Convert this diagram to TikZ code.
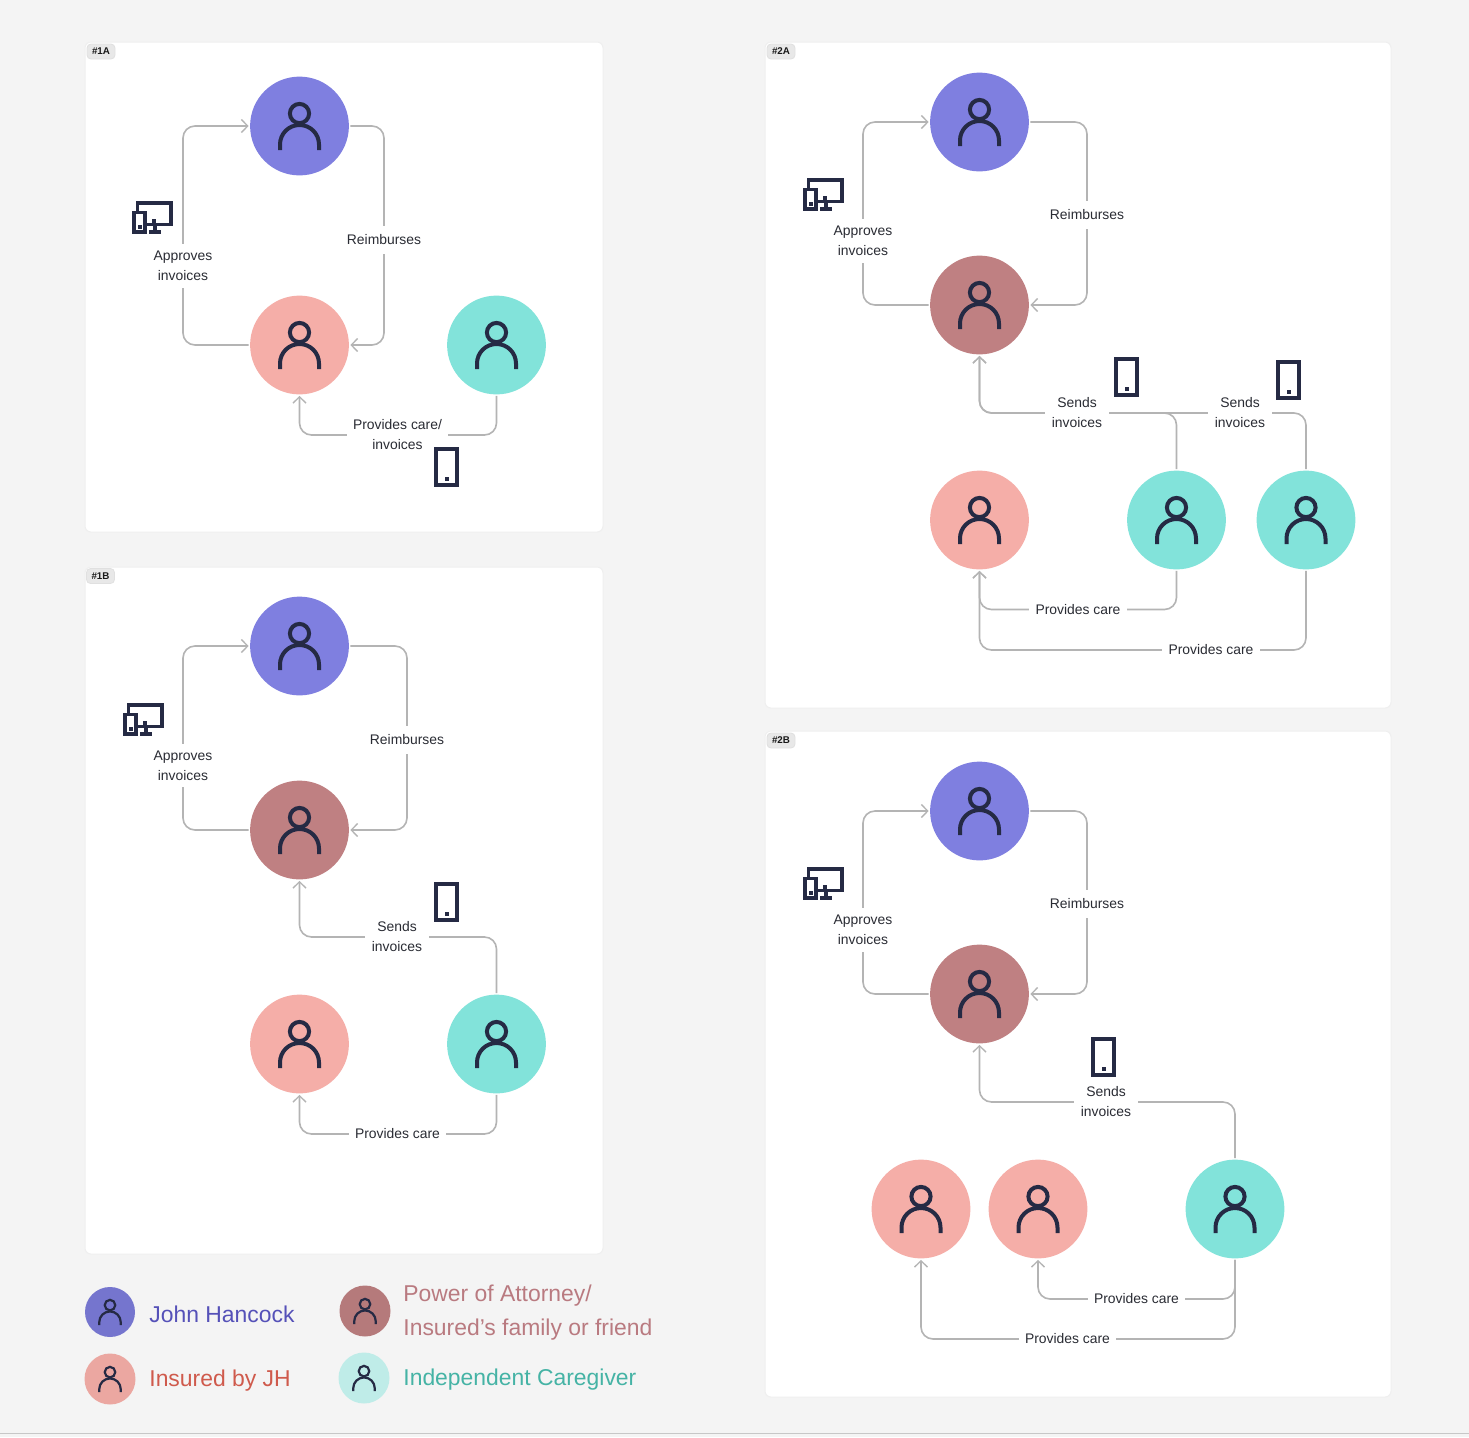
\documentclass[tikz,border=0pt]{standalone}
\usepackage{fontspec}
\setmainfont{Liberation Sans}
\usetikzlibrary{arrows.meta}
\definecolor{pagebg}{HTML}{F4F4F4}
\definecolor{cardline}{HTML}{EFEFEF}
\definecolor{ink}{HTML}{252A44}
\definecolor{wire}{HTML}{B4B4B4}
\definecolor{labeltext}{HTML}{2A2C34}
\definecolor{cblue}{HTML}{7F7FE0}
\definecolor{crose}{HTML}{F5AEA8}
\definecolor{cmauve}{HTML}{BF8082}
\definecolor{cteal}{HTML}{82E3DA}
\definecolor{cpale}{HTML}{BFECE8}
\definecolor{tblue}{HTML}{5551B8}
\definecolor{tred}{HTML}{CF5A4C}
\definecolor{tmauve}{HTML}{B97A80}
\definecolor{tteal}{HTML}{45B3A5}
\pgfdeclarelayer{cards}
\pgfdeclarelayer{lines}
\pgfsetlayers{cards,lines,main}
\tikzset{
  card/.style={draw=cardline,line width=.5pt,fill=white,rounded corners=3pt},
  person/.style={circle,inner sep=0pt,minimum size=49.4pt,outer sep=.7pt},
  wirepath/.style={draw=wire,line width=.8pt,rounded corners=6pt},
  arrowed/.style={wirepath,-{Straight Barb[length=3.2pt,width=6.5pt,line width=.65pt]}},
  lab/.style={fill=white,align=center,font=\fontsize{6.95}{10}\selectfont,text=labeltext,inner xsep=3.2pt,inner ysep=3.5pt,minimum height=14pt},
  tagbox/.style={draw=black!12,fill=black!9,rounded corners=2pt,line width=.4pt,inner sep=0pt,minimum width=14pt,minimum height=7.5pt,font=\fontsize{4.9}{5}\selectfont\bfseries,text=black!90},
  legtext/.style={anchor=west,inner sep=0pt,font=\fontsize{11.45}{17}\selectfont},
  icon/.style={draw=ink,line width=#1,line cap=butt},
  icon/.default=1.9pt
}
\newcommand{\personicon}[3]{% node, scale, line width
  \begin{scope}[shift={(#1.center)},scale=#2]
    \draw[icon=#3] (0,-12.5) circle [radius=4.8pt];
    \draw[icon=#3] (-19.5,24) -- (-19.5,18.5) .. controls (-19.5,7.7) and (-10.8,-1) .. (0,-1) .. controls (10.8,-1) and (19.5,7.7) .. (19.5,18.5) -- (19.5,24);
  \end{scope}}
\newcommand{\person}[4]{%
  \node[person,fill=#4] (#1) at (#2,#3) {};
  \personicon{#1}{1}{2pt}}
\newcommand{\legperson}[5]{% name x y colour size
  \node[person,fill=#4,minimum size=#5] (#1) at (#2,#3) {};
  \personicon{#1}{.55}{1.1pt}}
\newcommand{\phoneicon}[2]{%
  \begin{scope}[shift={(#1,#2)}]
    \draw[icon] (1.9,1.9) rectangle (23.1,38.1);
    \fill[ink] (11,30) rectangle (15,34);
  \end{scope}}
\newcommand{\deviceicon}[2]{%
  \begin{scope}[shift={(#1,#2)}]
    \draw[icon] (5.5,10) -- (5.5,1.9) -- (39.1,1.9) -- (39.1,23.5) -- (14,23.5);
    \draw[icon] (1.9,11.5) rectangle (13,31.1);
    \draw[icon] (23,23.5) -- (23,31);
    \draw[icon] (17,31.1) -- (28.5,31.1);
    \fill[ink] (20,17.5) rectangle (24,21.5);
    \fill[ink] (5.5,23.7) rectangle (9.5,27.7);
  \end{scope}}
\begin{document}
\begin{tikzpicture}[x=.5pt,y=-.5pt]
\useasboundingbox (0,0) rectangle (1469,1437);
\begin{pgfonlayer}{cards}
  \fill[pagebg] (0,0) rectangle (1469,1437);
  \draw[black!22,line width=.5pt] (0,1433.5) -- (1469,1433.5);
  \draw[card] (85,42) rectangle (603,532);
  \draw[card] (85,567) rectangle (603,1254);
  \draw[card] (765,42) rectangle (1391,708);
  \draw[card] (765,731) rectangle (1391,1397);
\end{pgfonlayer}
% tags
\node[tagbox] (tagA) at (101,51.5) {\#1A};
\node[tagbox] (tagB) at (100.5,576) {\#1B};
\node[tagbox] (tagC) at (781,51.5) {\#2A};
\node[tagbox] (tagD) at (781,740.5) {\#2B};

% ---- 1A
\person{a1}{299.5}{126}{cblue}
\person{a2}{299.5}{345}{crose}
\person{a3}{496.5}{345}{cteal}
\node[lab] (aA) at (183,266) {Approves\\invoices};
\node[lab] (aR) at (384,240) {Reimburses};
\node[lab] (aP) at (397.5,435) {Provides care/\\invoices};
\begin{pgfonlayer}{lines}
  \draw[arrowed] (a2.west) -| (aA.center) |- (a1.west);
  \draw[arrowed] (a1.east) -| (aR.center) |- (a2.east);
  \draw[arrowed] (a3.south) |- (aP.center) -| (a2.south);
\end{pgfonlayer}
\deviceicon{132}{201}
\phoneicon{434}{447}

% ---- 1B
\person{b1}{299.5}{646}{cblue}
\person{b2}{299.5}{830}{cmauve}
\person{b3}{299.5}{1044}{crose}
\person{b4}{496.5}{1044}{cteal}
\node[lab] (bA) at (183,765.5) {Approves\\invoices};
\node[lab] (bR) at (407,740) {Reimburses};
\node[lab] (bS) at (397,937) {Sends\\invoices};
\node[lab] (bP) at (397.5,1134) {Provides care};
\begin{pgfonlayer}{lines}
  \draw[arrowed] (b2.west) -| (bA.center) |- (b1.west);
  \draw[arrowed] (b1.east) -| (bR.center) |- (b2.east);
  \draw[arrowed] (b4.north) |- (bS.center) -| (b2.south);
  \draw[arrowed] (b4.south) |- (bP.center) -| (b3.south);
\end{pgfonlayer}
\deviceicon{123}{703}
\phoneicon{434}{882}

% ---- 2A
\person{c1}{979.5}{122}{cblue}
\person{c2}{979.5}{305}{cmauve}
\person{c3}{979.5}{520}{crose}
\person{c4}{1176.5}{520}{cteal}
\person{c5}{1306}{520}{cteal}
\node[lab] (cA) at (863,241) {Approves\\invoices};
\node[lab] (cR) at (1087,215) {Reimburses};
\node[lab] (cS) at (1077,413) {Sends\\invoices};
\node[lab] (cT) at (1240,413) {Sends\\invoices};
\node[lab] (cP) at (1078,609.5) {Provides care};
\node[lab] (cQ) at (1211,650) {Provides care};
\begin{pgfonlayer}{lines}
  \draw[arrowed] (c2.west) -| (cA.center) |- (c1.west);
  \draw[arrowed] (c1.east) -| (cR.center) |- (c2.east);
  \draw[arrowed] (c4.north) |- (cS.center) -| (c2.south);
  \draw[arrowed] (c5.north) |- (cT.center) -- (cS.center) -| (c2.south);
  \draw[arrowed] (c4.south) |- (cP.center) -| (c3.south);
  \draw[arrowed] (c5.south) |- (cQ.center) -| (c3.south);
\end{pgfonlayer}
\deviceicon{803}{178}
\phoneicon{1114}{357}
\phoneicon{1276}{360}

% ---- 2B
\person{d1}{979.5}{811}{cblue}
\person{d2}{979.5}{994}{cmauve}
\person{d3}{921}{1209}{crose}
\person{d4}{1038}{1209}{crose}
\person{d5}{1235}{1209}{cteal}
\node[lab] (dA) at (863,930) {Approves\\invoices};
\node[lab] (dR) at (1087,904) {Reimburses};
\node[lab] (dS) at (1106,1102) {Sends\\invoices};
\node[lab] (dP) at (1136.5,1299) {Provides care};
\node[lab] (dQ) at (1067.5,1339) {Provides care};
\begin{pgfonlayer}{lines}
  \draw[arrowed] (d2.west) -| (dA.center) |- (d1.west);
  \draw[arrowed] (d1.east) -| (dR.center) |- (d2.east);
  \draw[arrowed] (d5.north) |- (dS.center) -| (d2.south);
  \draw[arrowed] (d5.south) |- (dP.center) -| (d4.south);
  \draw[arrowed] (d5.south) |- (dQ.center) -| (d3.south);
\end{pgfonlayer}
\deviceicon{803}{867}
\phoneicon{1091}{1037}

% ---- legend
\legperson{l1}{110}{1312}{cblue!92!black}{25pt}
\legperson{l2}{110}{1379}{crose!96!black}{25.5pt}
\legperson{l3}{365}{1311}{cmauve!95!black}{25.5pt}
\legperson{l4}{364}{1378}{cpale}{25.5pt}
\node[legtext,text=tblue] (t1) at (149,1314) {John Hancock};
\node[legtext,text=tred] (t2) at (149,1380.5) {Insured by JH};
\node[legtext,text=tmauve] (t3) at (403,1295.5) {Power of Attorney/};
\node[legtext,text=tmauve] (t4) at (403,1329.5) {Insured’s family or friend};
\node[legtext,text=tteal] (t5) at (403,1379.5) {Independent Caregiver};
\end{tikzpicture}
\end{document}
